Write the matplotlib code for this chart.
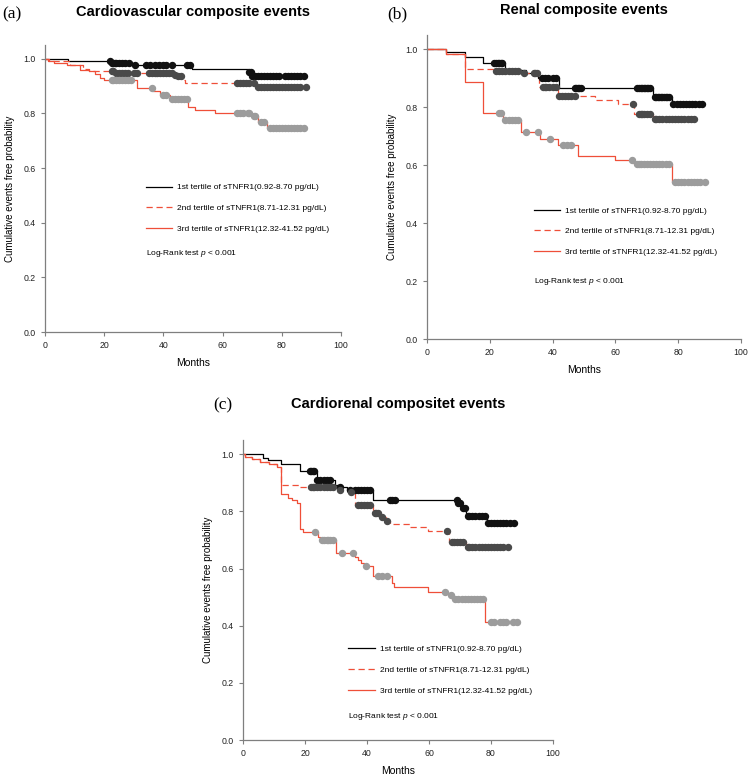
import numpy as np
import matplotlib
matplotlib.use("Agg")
import matplotlib.pyplot as plt

plt.rcParams['font.family'] = ['Liberation Sans', 'DejaVu Sans']
plt.rcParams['mathtext.fontset'] = 'custom'
plt.rcParams['mathtext.it'] = 'Liberation Sans:italic'
plt.rcParams['mathtext.rm'] = 'Liberation Sans'

RED = '#ef4f38'
DOT_COLORS = ['#111111', '#4a4a4a', '#9c9c9c']

labels = ['1st tertile of sTNFR1(0.92-8.70 pg/dL)',
          '2nd tertile of sTNFR1(8.71-12.31 pg/dL)',
          '3rd tertile of sTNFR1(12.32-41.52 pg/dL)']

# panel (a) cardiovascular
a1_t = [0, 7.9, 22.5, 30.4, 49.5, 68.7, 69.8]
a1_s = [1.0, 0.993, 0.986, 0.976, 0.962, 0.952, 0.938]
a1_c = [22, 22.5, 23, 23.5, 24, 25, 26, 27, 28.5, 30.5, 34, 35.5, 37, 38.5, 40, 41, 43, 48, 49,
        69, 69.5, 70, 71, 72, 73, 74, 75, 76, 77, 78, 79, 81, 82, 83, 84, 85, 86, 87.5]
a2_t = [0, 1.5, 8.5, 13, 15, 23.5, 43.5, 45, 46.5, 47.3, 71]
a2_s = [1.0, 0.993, 0.976, 0.962, 0.954, 0.947, 0.941, 0.935, 0.923, 0.911, 0.896]
a2_c = [22.5, 23, 24, 25, 26, 27, 28, 30, 31, 35, 36, 37, 38, 39, 40, 41, 42, 43, 44, 45, 46,
        65, 66, 67, 68, 69, 70.5, 72, 73, 74, 75, 76, 77, 78, 79, 80, 81, 82, 83, 84, 85, 86, 88]
a3_t = [0, 1, 3, 7.5, 11.8, 15, 17, 18.6, 20, 31, 36.6, 38.9, 42.2, 48.4, 50.7, 57.4, 69.8, 72, 74.9]
a3_s = [1.0, 0.99, 0.985, 0.976, 0.96, 0.954, 0.943, 0.93, 0.922, 0.893, 0.88, 0.868, 0.852,
        0.825, 0.813, 0.801, 0.789, 0.77, 0.746]
a3_c = [22.5, 23, 24, 25, 26, 27, 28, 29, 36, 40, 41, 43, 44, 45, 46, 47, 48, 65, 66, 67, 68.5,
        69, 70.5, 71, 73, 74, 76, 77, 78, 79, 80, 81, 82, 83, 84, 85, 86, 87.5]

# panel (b) renal
b1_t = [0, 6, 12.1, 17.9, 24.8, 31.5, 35.5, 42.1, 72, 77.9]
b1_s = [1.0, 0.99, 0.975, 0.952, 0.93, 0.919, 0.903, 0.867, 0.836, 0.812]
b1_c = [21.5, 22, 22.5, 23, 23.5, 24, 36.5, 37.5, 38.5, 40, 41, 47, 47.5, 48, 48.5, 49,
        67, 67.5, 68, 68.5, 69, 69.5, 70, 70.5, 71, 72.5, 73, 73.5, 74, 74.5, 75, 75.5, 76, 76.5, 77,
        78.5, 79.5, 80.5, 81.5, 82.5, 83.5, 84.5, 85.5, 86.5, 87.5]
b2_t = [0, 6, 12.1, 21, 30.5, 35.8, 41.8, 53.5, 60.7, 66, 72]
b2_s = [1.0, 0.985, 0.934, 0.927, 0.917, 0.871, 0.839, 0.827, 0.813, 0.777, 0.76]
b2_c = [22, 23, 24, 25, 26, 27, 28, 29, 31, 34, 34.5, 35, 37, 37.5, 38, 39, 40, 41, 42, 43, 44,
        45, 46, 47, 65.5, 67.5, 68, 68.5, 69, 70, 71, 72.5, 73, 74, 75, 76, 77, 78, 79, 80, 81, 82,
        83, 84, 85]
b3_t = [0, 6, 12.1, 17.9, 24.3, 30.1, 36, 41.8, 48, 59.9, 66, 78.1]
b3_s = [1.0, 0.985, 0.887, 0.781, 0.758, 0.714, 0.691, 0.669, 0.631, 0.619, 0.605, 0.541]
b3_c = [23, 23.5, 25, 26, 27, 28, 29, 31.4, 35.5, 39.2, 43.4, 44.5, 46, 65.2, 66.8, 67.5, 68, 69,
        70, 71, 72, 73, 74, 75, 76, 77, 79, 80, 81, 82, 83, 84, 85, 86, 87, 88.5]

# panel (c) cardiorenal
c1_t = [0, 6.6, 8, 12.2, 18.4, 23.8, 29.7, 31, 33.5, 42, 69, 70.5, 72, 78.6]
c1_s = [1.0, 0.987, 0.981, 0.967, 0.942, 0.909, 0.894, 0.886, 0.876, 0.841, 0.83, 0.813, 0.783, 0.758]
c1_c = [21.6, 22, 22.5, 23, 24, 25, 26, 27, 28, 31.3, 34.5, 36, 37, 38, 39, 40, 41, 47.4, 48, 49,
        68.9, 69.5, 70, 71, 71.5, 72.5, 73, 74, 75, 76, 77, 78, 79, 80, 81, 82, 83, 84, 85, 86, 87.4]
c2_t = [0, 0.6, 2.8, 5.5, 8.5, 11, 12.2, 18.4, 30, 34.5, 36.1, 42, 44, 46, 47.4, 53.9, 59.8, 66.6, 72]
c2_s = [1.0, 0.99, 0.985, 0.974, 0.965, 0.956, 0.894, 0.886, 0.876, 0.868, 0.822, 0.795, 0.78,
        0.768, 0.755, 0.746, 0.732, 0.693, 0.676]
c2_c = [22, 22.5, 23, 24, 25, 26, 27, 28, 29, 31.3, 35, 37, 38, 39, 40, 41, 42.5, 43, 43.5, 45,
        46.5, 65.7, 67.5, 68, 69, 70, 71, 72.5, 73, 74, 75, 76, 77, 78, 79, 80, 81, 82, 83, 84, 85.6]
c3_t = [0, 0.6, 2.8, 5.5, 8.5, 11, 12.2, 14.6, 15.7, 17.4, 18.4, 19.5, 24.3, 25, 30, 36.1, 37, 38,
        39, 42, 48.2, 48.7, 59.8, 66.2, 67.5, 78.1]
c3_s = [1.0, 0.99, 0.985, 0.974, 0.965, 0.956, 0.86, 0.848, 0.841, 0.83, 0.74, 0.728, 0.711, 0.7,
        0.655, 0.641, 0.629, 0.62, 0.608, 0.575, 0.548, 0.534, 0.519, 0.507, 0.492, 0.414]
c3_c = [23.2, 25.5, 26, 27, 27.5, 28, 29, 31.8, 35.5, 39.6, 43.5, 45, 46.5, 65.2, 67, 68.5, 69.5,
        70.5, 71.5, 72.5, 73.5, 74.5, 75.5, 76.5, 77.5, 80, 81, 83, 84, 85, 87, 88.3]


def km_panel(ax, groups, title, title_pad, leg_y, text_y):
    styles = [dict(color='black', ls='-'),
              dict(color=RED, ls=(0, (5, 3))),
              dict(color=RED, ls='-')]
    handles = []
    for (t, s, c), st, dc, lab in zip(groups, styles, DOT_COLORS, labels):
        t = np.array(t)
        s = np.array(s)
        c = np.array(c)
        end = max(c.max(), t.max())
        h, = ax.step(np.append(t, end), np.append(s, s[-1]), where='post', lw=0.9, label=lab, **st)
        handles.append(h)
        idx = np.searchsorted(t, c, side='right') - 1
        ax.plot(c, s[idx], 'o', ms=4.3, color=dc, mec=dc, zorder=3)
    ax.set_xlim(0, 100)
    ax.set_ylim(0, 1.05)
    ax.set_xticks(np.arange(0, 101, 20))
    ax.set_yticks(np.arange(0, 1.01, 0.2))
    ax.set_yticklabels(['%.1f' % v for v in np.arange(0, 1.01, 0.2)])
    for sp in ['top', 'right']:
        ax.spines[sp].set_visible(False)
    for sp in ['left', 'bottom']:
        ax.spines[sp].set_color('#7f7f7f')
        ax.spines[sp].set_linewidth(0.9)
    ax.spines['bottom'].set_bounds(0, 100)
    ax.tick_params(colors='#7f7f7f', labelcolor='#222222', labelsize=6.3, length=3, width=0.8)
    ax.set_xlabel('Months', fontsize=7.5, labelpad=6)
    ax.set_ylabel('Cumulative events free probability', fontsize=7, labelpad=6)
    ax.legend(handles=handles, loc='upper left', bbox_to_anchor=(0.34, leg_y), frameon=False,
              fontsize=6, handlelength=3.2, handletextpad=0.6, labelspacing=1.55,
              borderpad=0, borderaxespad=0)
    ax.text(0.34, text_y, r'Log-Rank test $\it{p}$ < 0.001', transform=ax.transAxes,
            fontsize=6, va='center', ha='left')
    ax.set_title(title, fontsize=10.5, fontweight='bold', pad=title_pad)


fig = plt.figure(figsize=(7.5, 7.79), dpi=100)
ax_a = fig.add_axes([0.06, 0.5738, 0.3947, 0.3684])
ax_b = fig.add_axes([0.5693, 0.5648, 0.4187, 0.3903])
ax_c = fig.add_axes([0.324, 0.05, 0.4133, 0.3852])

km_panel(ax_a, [(a1_t, a1_s, a1_c), (a2_t, a2_s, a2_c), (a3_t, a3_s, a3_c)],
         'Cardiovascular composite events', 21, 0.517, 0.275)
km_panel(ax_b, [(b1_t, b1_s, b1_c), (b2_t, b2_s, b2_c), (b3_t, b3_s, b3_c)],
         'Renal composite events', 15, 0.435, 0.188)
km_panel(ax_c, [(c1_t, c1_s, c1_c), (c2_t, c2_s, c2_c), (c3_t, c3_s, c3_c)],
         'Cardiorenal compositet events', 23, 0.315, 0.08)

for tag, x, y in [('(a)', 0.003, 0.981), ('(b)', 0.516, 0.981), ('(c)', 0.284, 0.479)]:
    fig.text(x, y, tag, family='Liberation Serif', fontsize=12.5, va='center', ha='left')

fig.savefig('out.png', dpi=100)
